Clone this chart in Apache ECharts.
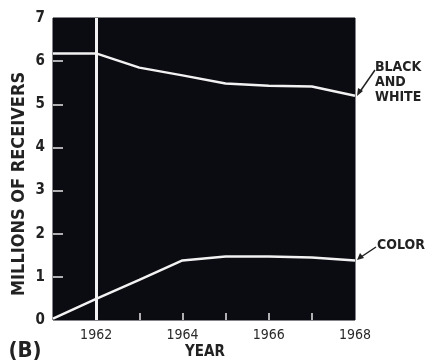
<!DOCTYPE html>
<html><head><meta charset="utf-8">
<script src="https://cdn.jsdelivr.net/npm/echarts@6/dist/echarts.min.js"></script>
<style>html,body{margin:0;padding:0;background:#fff}#c{width:426px;height:364px}</style>
</head><body><div id="c"></div>
<script>
var years = ['1961','1962','1963','1964','1965','1966','1967','1968'];
var blackWhite = [6.18, 6.18, 5.85, 5.67, 5.48, 5.43, 5.41, 5.2];
var color = [0.03, 0.49, 0.93, 1.38, 1.47, 1.47, 1.45, 1.38];
var yTicks = [0,1,2,3,4,5,6,7];
var xLabelYears = ['1962','1964','1966','1968'];
var markYear = '1962';

var F = '"DejaVu Sans Condensed","DejaVu Sans",sans-serif';
var chart = echarts.init(document.getElementById('c'), null, {renderer:'canvas'});
var lineStyle = {color:'#f2f2f2', width:2.5};
chart.setOption({
  animation:false,
  backgroundColor:'#ffffff',
  grid:{left:53, right:71, top:18, bottom:44, show:true, backgroundColor:'#0b0b12', borderColor:'#0b0b12', borderWidth:1},
  xAxis:{type:'category', data:years, boundaryGap:false,
    axisLine:{show:false},
    axisTick:{show:true, inside:true, length:7, lineStyle:{color:'#e8e8e8', width:1.5},
      interval:function(i,v){return v>='1963' && v<='1967';}},
    axisLabel:{color:'#2a2a2a', fontFamily:F, fontSize:14, margin:8,
      interval:function(i,v){return xLabelYears.indexOf(v)>=0;}},
    splitLine:{show:false}},
  yAxis:{type:'value', min:0, max:7, interval:1,
    axisLine:{show:false},
    axisTick:{show:true, inside:true, length:10, customValues:[1,2,3,4,5,6], lineStyle:{color:'#e8e8e8', width:1.5}},
    axisLabel:{color:'#222', fontFamily:F, fontSize:15, fontWeight:'bold', margin:8, customValues:yTicks},
    splitLine:{show:false}},
  series:[
    {type:'line', data:blackWhite, symbol:'none', lineStyle:lineStyle,
     markLine:{silent:true, symbol:'none', label:{show:false}, lineStyle:{color:'#f2f2f2', width:3, type:'solid'},
       data:[{xAxis:markYear}]}},
    {type:'line', data:color, symbol:'none', lineStyle:lineStyle}
  ],
  graphic:[
    {type:'text', x:25, y:351, style:{text:'(B)', font:'bold 22px '+F, fill:'#222', textAlign:'center', textVerticalAlign:'middle'}},
    {type:'text', x:205, y:352, style:{text:'YEAR', font:'bold 15px '+F, fill:'#222', textAlign:'center', textVerticalAlign:'middle'}},
    {type:'text', x:19, y:184, rotation:Math.PI/2, style:{text:'MILLIONS OF RECEIVERS', font:'bold 18px '+F, fill:'#222', textAlign:'center', textVerticalAlign:'middle'}},
    {type:'text', x:375, y:67, style:{text:'BLACK', font:'bold 14px '+F, fill:'#222', textVerticalAlign:'middle'}},
    {type:'text', x:375, y:82, style:{text:'AND', font:'bold 14px '+F, fill:'#222', textVerticalAlign:'middle'}},
    {type:'text', x:375, y:97, style:{text:'WHITE', font:'bold 14px '+F, fill:'#222', textVerticalAlign:'middle'}},
    {type:'text', x:377, y:245, style:{text:'COLOR', font:'bold 14px '+F, fill:'#222', textVerticalAlign:'middle'}},
    {type:'line', shape:{x1:375, y1:70, x2:359, y2:93}, style:{stroke:'#222', lineWidth:1.5}},
    {type:'polygon', shape:{points:[[357,96],[358,88],[363,91]]}, style:{fill:'#222'}},
    {type:'line', shape:{x1:376, y1:247, x2:361, y2:257}, style:{stroke:'#222', lineWidth:1.5}},
    {type:'polygon', shape:{points:[[357,260],[360,253],[364,258]]}, style:{fill:'#222'}}
  ]
});
</script></body></html>
